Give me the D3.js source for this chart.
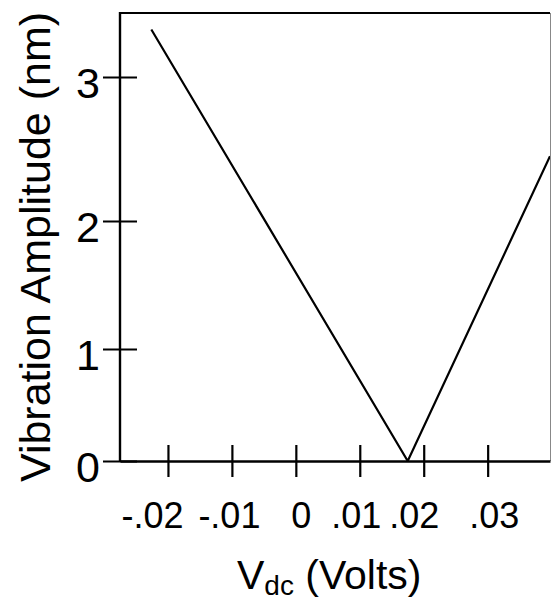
<!DOCTYPE html>
<html>
<head>
<meta charset="utf-8">
<script src="https://cdn.jsdelivr.net/npm/d3@7"></script>
<style>
  body { margin: 0; background: #fff; }
  text { font-family: "Liberation Sans", Arial, sans-serif; fill: #000; }
</style>
</head>
<body id="MyBody">
<svg id="chart" width="551" height="602"></svg>
<script>

// données
var courbe_v = [-0.0226, 0.0175, 0.03975];   // Vdc (Volts)
var courbe_amp = [3.33, 0, 2.45];            // amplitude (nm)

var x_ticks = [-0.02, -0.01, 0, 0.01, 0.02, 0.03];
var x_labels = ["-.02", "-.01", "0", ".01", ".02", ".03"];
var y_ticks = [0, 1, 2, 3];
var y_labels = ["0", "1", "2", "3"];

// zone du graphique
var left = 120, right = 550, top_ = 13, bottom = 461;

// sur l'original les étiquettes x ne sont pas centrées sur les traits
var decalage_x = [-16, -3, 5, -4, -10, 6];

var svg = d3.select('#chart');

var x = d3.scaleLinear()
    .domain([-0.0275, 0.03975])
    .range([left, right]);

// l'axe vertical n'est pas régulier sur l'original (écarts 112, 128, 144 px)
var y = d3.scaleLinear()
    .domain([0, 1, 2, 3])
    .range([bottom, 349, 221, 77]);

svg.append('defs').append('clipPath')
    .attr('id', 'zone')
    .append('rect')
    .attr('x', left).attr('y', top_)
    .attr('width', right - left).attr('height', bottom - top_);

// cadre: haut noir, droite gris fin
svg.append('line')
    .attr('x1', left).attr('x2', right)
    .attr('y1', top_).attr('y2', top_)
    .attr('stroke', '#000').attr('stroke-width', 2.2);
svg.append('line')
    .attr('x1', right + 0.5).attr('x2', right + 0.5)
    .attr('y1', top_).attr('y2', bottom)
    .attr('stroke', '#888').attr('stroke-width', 1);

// axe x
var axeX = svg.append('g')
    .attr('transform', 'translate(0,' + bottom + ')')
    .call(d3.axisBottom(x)
        .tickValues(x_ticks)
        .tickSize(0)
        .tickFormat(function(d, i) { return x_labels[i]; }));
axeX.select('.domain')
    .attr('stroke', '#000').attr('stroke-width', 2.4);
axeX.selectAll('.tick line').remove();
axeX.selectAll('.tick')
    .append('line')
    .attr('y1', -16).attr('y2', 16)
    .attr('stroke', '#000').attr('stroke-width', 2.2);
axeX.selectAll('.tick text')
    .attr('y', 67).attr('dy', 0)
    .attr('x', function(d, i) { return decalage_x[i]; })
    .style('font-size', '36px')
    .attr('font-family', null);

// axe y
var axeY = svg.append('g')
    .attr('transform', 'translate(' + left + ',0)')
    .call(d3.axisLeft(y)
        .tickValues(y_ticks)
        .tickSize(0)
        .tickFormat(function(d, i) { return y_labels[i]; }));
axeY.select('.domain').remove();
axeY.append('line')
    .attr('x1', 0).attr('x2', 0)
    .attr('y1', top_ - 1).attr('y2', bottom + 1)
    .attr('stroke', '#000').attr('stroke-width', 2.4);
axeY.selectAll('.tick line').remove();
axeY.selectAll('.tick')
    .append('line')
    .attr('x1', -17).attr('x2', 17)
    .attr('stroke', '#000').attr('stroke-width', 2.2);
axeY.selectAll('.tick text')
    .attr('x', -20).attr('dy', 20)
    .style('font-size', '43px')
    .attr('font-family', null);

// la courbe en V
var pts = courbe_v.map(function(v, i) { return [v, courbe_amp[i]]; });
var ligne = d3.line()
    .x(function(d) { return x(d[0]); })
    .y(function(d) { return y(d[1]); });

svg.append('path')
    .datum(pts)
    .attr('clip-path', 'url(#zone)')
    .attr('d', ligne)
    .attr('fill', 'none')
    .attr('stroke', '#000')
    .attr('stroke-width', 2.2)
    .attr('stroke-linejoin', 'miter');

// titres des axes
var titreX = svg.append('text')
    .attr('x', 237).attr('y', 589)
    .style('font-size', '41px');
titreX.append('tspan').text('V');
titreX.append('tspan').attr('dy', 6).style('font-size', '28px').text('dc');
titreX.append('tspan').attr('dy', -6).text(' (Volts)');

svg.append('text')
    .attr('transform', 'translate(50,247) rotate(-90)')
    .attr('text-anchor', 'middle')
    .style('font-size', '43px')
    .text('Vibration Amplitude (nm)');

</script>
</body>
</html>
